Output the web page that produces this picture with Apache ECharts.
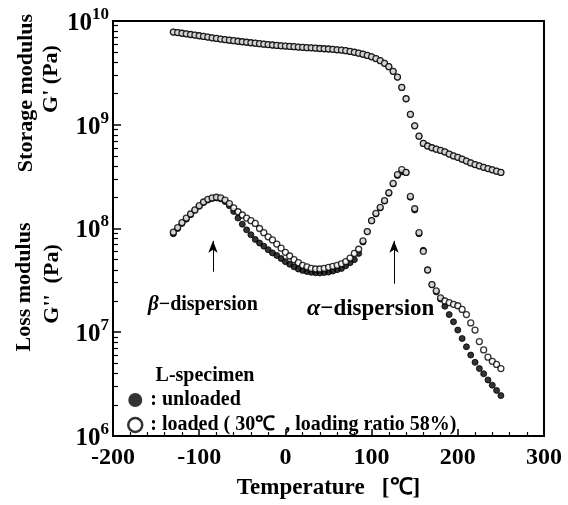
<!DOCTYPE html>
<html>
<head>
<meta charset="utf-8">
<script src="https://cdn.jsdelivr.net/npm/echarts@6/dist/echarts.min.js"></script>
<style>
  html, body { margin: 0; padding: 0; background: #fff; }
  #main { width: 568px; height: 505px; }
</style>
</head>
<body>
<div id="main"></div>
<script>
// temperature of each measured point [°C]
const temps = [
  -130, -125, -120, -115, -110, -105, -100, -95, -90, -85, -80, -75, -70, -65, -60, -55,
  -50, -45, -40, -35, -30, -25, -20, -15, -10, -5, 0, 5, 10, 15, 20, 25, 30, 35, 40, 45,
  50, 55, 60, 65, 70, 75, 80, 85, 90, 95, 100, 105, 110, 115, 120, 125, 130, 135, 140,
  145, 150, 155, 160, 165, 170, 175, 180, 185, 190, 195, 200, 205, 210, 215, 220, 225,
  230, 235, 240, 245, 250
];

// storage modulus G' [Pa]
const storageModulus = [
  7.82e9, 7.73e9, 7.62e9, 7.52e9, 7.41e9, 7.31e9, 7.21e9, 7.10e9, 7.00e9, 6.89e9, 6.79e9,
  6.70e9, 6.61e9, 6.53e9, 6.46e9, 6.38e9, 6.31e9, 6.24e9, 6.17e9, 6.11e9, 6.04e9, 5.98e9,
  5.93e9, 5.87e9, 5.82e9, 5.77e9, 5.73e9, 5.69e9, 5.65e9, 5.61e9, 5.57e9, 5.53e9, 5.51e9,
  5.47e9, 5.43e9, 5.40e9, 5.37e9, 5.33e9, 5.28e9, 5.24e9, 5.18e9, 5.09e9, 5.00e9, 4.90e9,
  4.79e9, 4.66e9, 4.52e9, 4.34e9, 4.15e9, 3.91e9, 3.63e9, 3.27e9, 2.88e9, 2.29e9, 1.78e9,
  1.26e9, 9.77e8, 7.76e8, 6.61e8, 6.24e8, 6.00e8, 5.82e8, 5.65e8, 5.47e8, 5.22e8, 5.01e8,
  4.85e8, 4.66e8, 4.47e8, 4.29e8, 4.13e8, 4.01e8, 3.89e8, 3.78e8, 3.68e8, 3.57e8, 3.47e8
];

// loss modulus G'' [Pa], unloaded specimen
const lossUnloaded = [
  8.9e7, 1.00e8, 1.12e8, 1.23e8, 1.36e8, 1.50e8, 1.64e8, 1.78e8, 1.88e8, 1.95e8, 1.97e8,
  1.93e8, 1.82e8, 1.66e8, 1.46e8, 1.26e8, 1.10e8, 9.7e7, 8.7e7, 7.85e7, 7.24e7, 6.76e7,
  6.24e7, 5.82e7, 5.50e7, 5.13e7, 4.79e7, 4.52e7, 4.27e7, 4.07e7, 3.94e7, 3.85e7, 3.78e7,
  3.74e7, 3.73e7, 3.76e7, 3.80e7, 3.89e7, 4.01e7, 4.12e7, 4.37e7, 4.68e7, 5.01e7, 5.75e7,
  7.41e7, 9.33e7, 1.19e8, 1.38e8, 1.58e8, 1.84e8, 2.19e8, 2.69e8, 3.24e8, 3.51e8, 3.47e8,
  2.00e8, 1.51e8, 8.9e7, 6.17e7, 3.98e7, 2.88e7, 2.45e7, 2.09e7, 1.78e7, 1.48e7, 1.26e7,
  1.05e7, 8.7e6, 7.24e6, 6.03e6, 5.13e6, 4.47e6, 3.98e6, 3.47e6, 3.09e6, 2.75e6, 2.45e6
];

// loss modulus G'' [Pa], loaded specimen
const lossLoaded = [
  9.2e7, 1.02e8, 1.14e8, 1.26e8, 1.38e8, 1.51e8, 1.66e8, 1.80e8, 1.91e8, 1.97e8, 2.00e8,
  1.97e8, 1.88e8, 1.74e8, 1.58e8, 1.45e8, 1.35e8, 1.26e8, 1.19e8, 1.12e8, 1.00e8, 9.12e7,
  8.32e7, 7.76e7, 7.08e7, 6.46e7, 5.89e7, 5.43e7, 5.01e7, 4.68e7, 4.42e7, 4.27e7, 4.12e7,
  4.07e7, 4.07e7, 4.12e7, 4.22e7, 4.32e7, 4.42e7, 4.57e7, 4.79e7, 5.19e7, 5.75e7, 6.31e7,
  7.59e7, 9.33e7, 1.19e8, 1.40e8, 1.60e8, 1.86e8, 2.21e8, 2.72e8, 3.31e8, 3.70e8, 3.47e8,
  2.04e8, 1.55e8, 9.12e7, 6.03e7, 3.98e7, 2.88e7, 2.51e7, 2.14e7, 2.00e7, 1.93e7, 1.86e7,
  1.80e7, 1.66e7, 1.48e7, 1.23e7, 1.05e7, 8.13e6, 6.76e6, 5.75e6, 5.25e6, 4.90e6, 4.47e6
];

// arrows marking the two dispersions: temperature, tail and head value
const arrowTemps = [-84, 126];
const arrowTails = [3.83e7, 2.94e7];
const arrowHeads = [7.6e7, 7.6e7];

const nameUnloaded = ': unloaded';
const nameLoaded = ': loaded ( 30℃  , loading ratio 58%)';

const serif = '"Liberation Serif", "Times New Roman", serif';

function pairs(values) {
  return temps.map((t, i) => [t, values[i]]);
}

const filled = { color: '#000', borderColor: '#000', borderWidth: 1 };
const open = { color: '#fff', borderColor: '#000', borderWidth: 1.3 };

let myChart = echarts.init(document.getElementById('main'), null, { renderer: 'canvas' });

let option = {
  animation: false,
  backgroundColor: '#fff',
  grid: {
    left: 113, right: 24, top: 21, bottom: 67,
    show: true, borderColor: '#000', borderWidth: 2
  },
  legend: {
    orient: 'vertical',
    left: 122, top: 385,
    itemWidth: 14, itemHeight: 14, itemGap: 5,
    textStyle: { fontFamily: serif, fontWeight: 'bold', fontSize: 20, color: '#000', padding: [0, 0, 0, 3] },
    data: [
      { name: nameUnloaded, icon: 'circle', itemStyle: { color: '#000', borderColor: '#000', borderWidth: 0 } },
      { name: nameLoaded, icon: 'circle', itemStyle: { color: '#fff', borderColor: '#000', borderWidth: 2.5 } }
    ]
  },
  xAxis: {
    type: 'value',
    min: -200, max: 300, interval: 100,
    splitLine: { show: false },
    axisLine: { onZero: false, lineStyle: { color: '#000', width: 2 } },
    axisTick: { inside: true, length: 7, lineStyle: { color: '#000', width: 1.5 } },
    minorTick: { show: true, splitNumber: 5, length: 4, lineStyle: { color: '#000', width: 1.2 } },
    axisLabel: { color: '#000', fontFamily: serif, fontWeight: 'bold', fontSize: 24, margin: 10 },
    name: 'Temperature   [℃]',
    nameLocation: 'middle',
    nameGap: 41,
    nameTextStyle: { color: '#000', fontFamily: serif, fontWeight: 'bold', fontSize: 23 }
  },
  yAxis: {
    type: 'log',
    logBase: 10,
    min: 1e6, max: 1e10,
    splitLine: { show: false },
    axisLine: { onZero: false, lineStyle: { color: '#000', width: 2 } },
    axisTick: { inside: true, length: 8, lineStyle: { color: '#000', width: 1.5 } },
    minorTick: { show: true, splitNumber: 9, length: 5, lineStyle: { color: '#000', width: 1.2 } },
    axisLabel: {
      margin: 4,
      formatter: function (v) {
        return '{a|10}{b|' + Math.round(Math.log10(v)) + '}';
      },
      rich: {
        a: { fontFamily: serif, fontWeight: 'bold', fontSize: 25, color: '#000', verticalAlign: 'bottom', lineHeight: 30 },
        b: { fontFamily: serif, fontWeight: 'bold', fontSize: 17, color: '#000', verticalAlign: 'top', lineHeight: 30 }
      }
    }
  },
  series: [
    { name: nameUnloaded, type: 'scatter', symbol: 'circle', symbolSize: 6, itemStyle: filled, data: pairs(storageModulus) },
    { name: nameLoaded, type: 'scatter', symbol: 'circle', symbolSize: 6, itemStyle: open, data: pairs(storageModulus) },
    {
      name: nameUnloaded, type: 'scatter', symbol: 'circle', symbolSize: 6, itemStyle: filled, data: pairs(lossUnloaded),
      markLine: {
        silent: true,
        symbol: ['none', 'arrow'],
        symbolSize: [7, 12],
        label: { show: false },
        lineStyle: { color: '#000', width: 1, type: 'solid' },
        data: arrowTemps.map((t, i) => [{ coord: [t, arrowTails[i]] }, { coord: [t, arrowHeads[i]] }])
      }
    },
    { name: nameLoaded, type: 'scatter', symbol: 'circle', symbolSize: 6, itemStyle: open, data: pairs(lossLoaded) }
  ],
  graphic: [
    { type: 'text', x: 26, y: 93, rotation: Math.PI / 2,
      style: { text: 'Storage modulus', font: 'bold 22px ' + serif, fill: '#000', align: 'center', verticalAlign: 'middle' } },
    { type: 'text', x: 51, y: 79, rotation: Math.PI / 2,
      style: { text: "G' (Pa)", font: 'bold 22px ' + serif, fill: '#000', align: 'center', verticalAlign: 'middle' } },
    { type: 'text', x: 24, y: 287, rotation: Math.PI / 2,
      style: { text: 'Loss modulus', font: 'bold 22px ' + serif, fill: '#000', align: 'center', verticalAlign: 'middle' } },
    { type: 'text', x: 52, y: 284, rotation: Math.PI / 2,
      style: { text: "G''  (Pa)", font: 'bold 22px ' + serif, fill: '#000', align: 'center', verticalAlign: 'middle' } },
    { type: 'text', x: 205, y: 376,
      style: { text: 'L-specimen', font: 'bold 20px ' + serif, fill: '#000', align: 'center', verticalAlign: 'middle' } },
    { type: 'text', x: 148, y: 305,
      style: {
        text: '{g|β}{t|−dispersion}', align: 'left', verticalAlign: 'middle',
        rich: {
          g: { font: 'italic bold 21px ' + serif, fill: '#000' },
          t: { font: 'bold 20px ' + serif, fill: '#000' }
        }
      } },
    { type: 'text', x: 307, y: 309,
      style: {
        text: '{g|α}{t|−dispersion}', align: 'left', verticalAlign: 'middle',
        rich: {
          g: { font: 'italic bold 24px ' + serif, fill: '#000' },
          t: { font: 'bold 23px ' + serif, fill: '#000' }
        }
      } }
  ]
};

myChart.setOption(option);
</script>
</body>
</html>
